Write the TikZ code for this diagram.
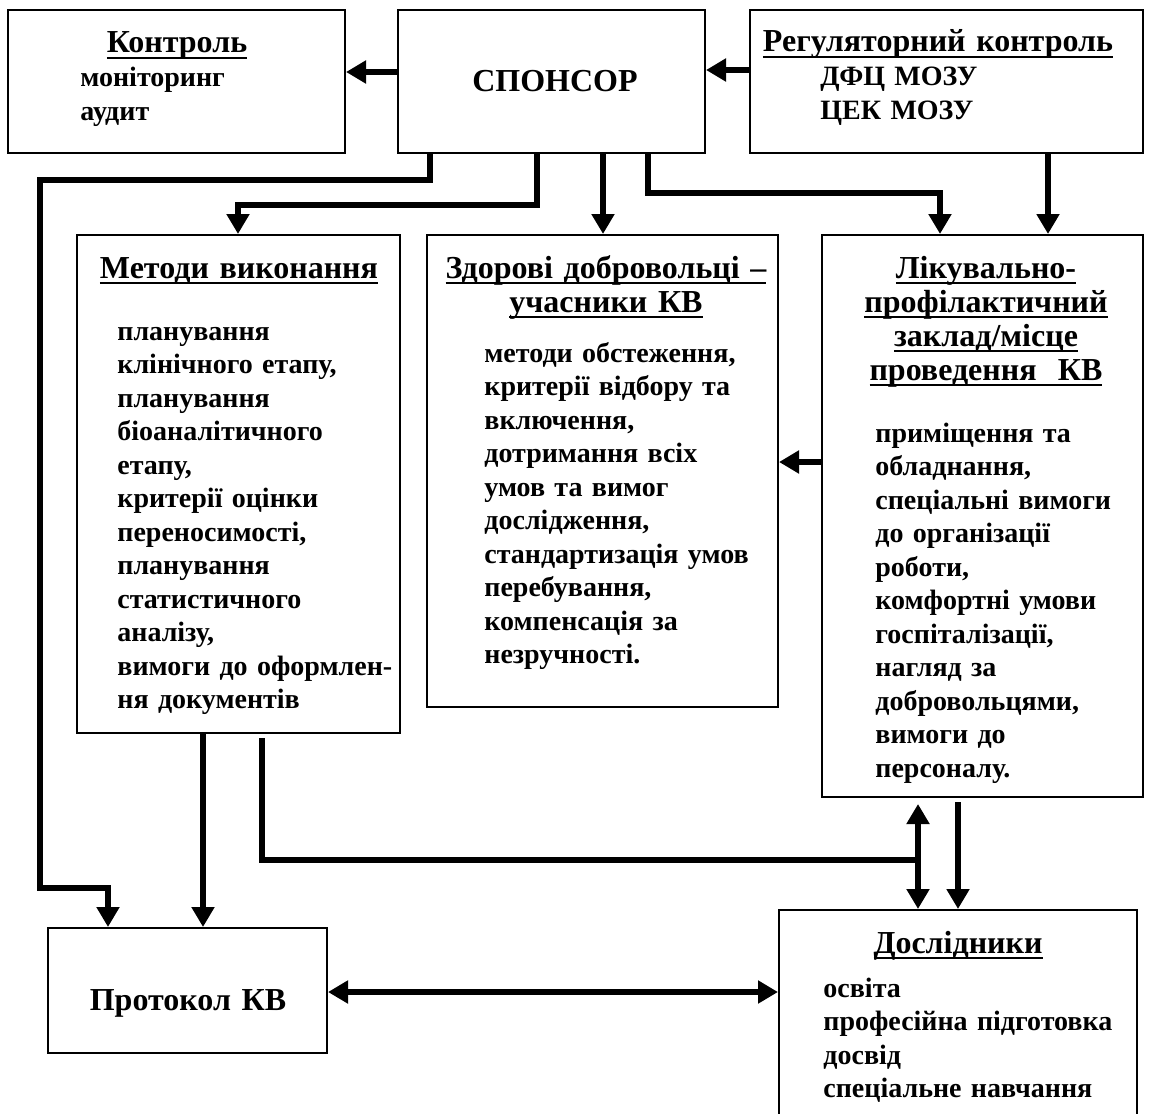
\documentclass[tikz,border=0pt]{standalone}
\usepackage{fontspec}
\setmainfont{Liberation Serif}
\usetikzlibrary{arrows.meta,fit}

\newcommand{\ulhead}[1]{\setbox0=\hbox{#1}\leavevmode\rlap{\copy0}\rule[-3.2pt]{\wd0}{1.2pt}}

\tikzset{
  box/.style={draw,line width=1pt,inner sep=0pt},
  head/.style={font=\fontsize{16}{17}\selectfont\bfseries,inner sep=0pt,text width=200pt,align=center,anchor=base},
  body/.style={font=\fontsize{14}{16.75}\selectfont\bfseries,inner sep=0pt,text width=160pt,align=left,anchor=base west},
  line/.style={line width=2.7pt},
  con/.style={line,-{Triangle[length=10pt,width=11pt]}},
  dcon/.style={line,{Triangle[length=10pt,width=11pt]}-{Triangle[length=10pt,width=11pt]}}
}

\begin{document}
\begin{tikzpicture}[x=0.5pt,y=-0.5pt]
\clip (0,0) rectangle (1149,1113);
\node[box,fit={(8,10) (345,153)}] (ctrl) {};
\node[box,fit={(398,10) (705,153)}] (spons) {};
\node[box,fit={(750,10) (1143,153)}] (reg) {};
\node[box,fit={(77,235) (400,733)}] (meth) {};
\node[box,fit={(427,235) (778,707)}] (vol) {};
\node[box,fit={(822,235) (1143,797)}] (lpz) {};
\node[box,fit={(48,928) (327,1053)}] (prot) {};
\node[box,fit={(779,910) (1137,1140)}] (res) {};
% texts
\node[head] (ctrlh) at (177,53) {\ulhead{Контроль}};
\node[body] (ctrlt) at (80,87) {моніторинг\\аудит};
\node[head] (sponst) at (555,91) {СПОНСОР};
\node[head] (regh) at (938,52) {\ulhead{Регуляторний контроль}};
\node[body] (regt) at (820,86) {ДФЦ МОЗУ\\ЦЕК МОЗУ};
\node[head] (methh) at (239,278) {\ulhead{Методи виконання}};
\node[body] (metht) at (117,340) {планування\\клінічного етапу,\\планування\\біоаналітичного\\етапу,\\критерії оцінки\\переносимості,\\планування\\статистичного\\аналізу,\\вимоги до оформлен-\\ня документів};
\node[head] (volh) at (606,278) {\ulhead{Здорові добровольці –}\\\ulhead{учасники КВ}};
\node[body] (volt) at (484,362) {методи обстеження,\\критерії відбору та\\включення,\\дотримання всіх\\умов та вимог\\дослідження,\\стандартизація умов\\перебування,\\компенсація за\\незручності.};
\node[head] (lpzh) at (986,278) {\ulhead{Лікувально-}\\\ulhead{профілактичний}\\\ulhead{заклад/місце}\\\ulhead{проведення~~КВ}};
\node[body] (lpzt) at (875,442) {приміщення та\\обладнання,\\спеціальні вимоги\\до організації\\роботи,\\комфортні умови\\госпіталізації,\\нагляд за\\добровольцями,\\вимоги до\\персоналу.};
\node[head] (prott) at (188,1010) {Протокол КВ};
\node[head] (resh) at (958,953) {\ulhead{Дослідники}};
\node[body] (rest) at (823,997) {освіта\\професійна підготовка\\досвід\\спеціальне навчання};
% connectors
\draw[con] (spons.west |- 0,72) -- (ctrl.east |- 0,72);
\draw[con] (reg.west |- 0,70) -- (spons.east |- 0,70);
\draw[con] (spons.south -| 430,0) -- (430,180) -| (40,888) -| (prot.north -| 108,0);
\draw[con] (spons.south -| 537,0) |- (238,205) -- (meth.north -| 238,0);
\draw[con] (spons.south -| 603,0) -- (vol.north -| 603,0);
\draw[con] (spons.south -| 648,0) |- (940,193) -- (lpz.north -| 940,0);
\draw[con] (reg.south -| 1048,0) -- (lpz.north -| 1048,0);
\draw[con] (lpz.west |- 0,462) -- (vol.east |- 0,462);
\draw[con] (meth.south -| 203,0) -- (prot.north -| 203,0);
\draw[line,shorten <=2pt] (meth.south -| 262,0) |- (918,860);
\draw[dcon,shorten <=3pt] (lpz.south -| 918,0) -- (res.north -| 918,0);
\draw[con,shorten <=2pt] (lpz.south -| 958,0) -- (res.north -| 958,0);
\draw[dcon] (prot.east |- 0,992) -- (res.west |- 0,992);
\end{tikzpicture}
\end{document}
